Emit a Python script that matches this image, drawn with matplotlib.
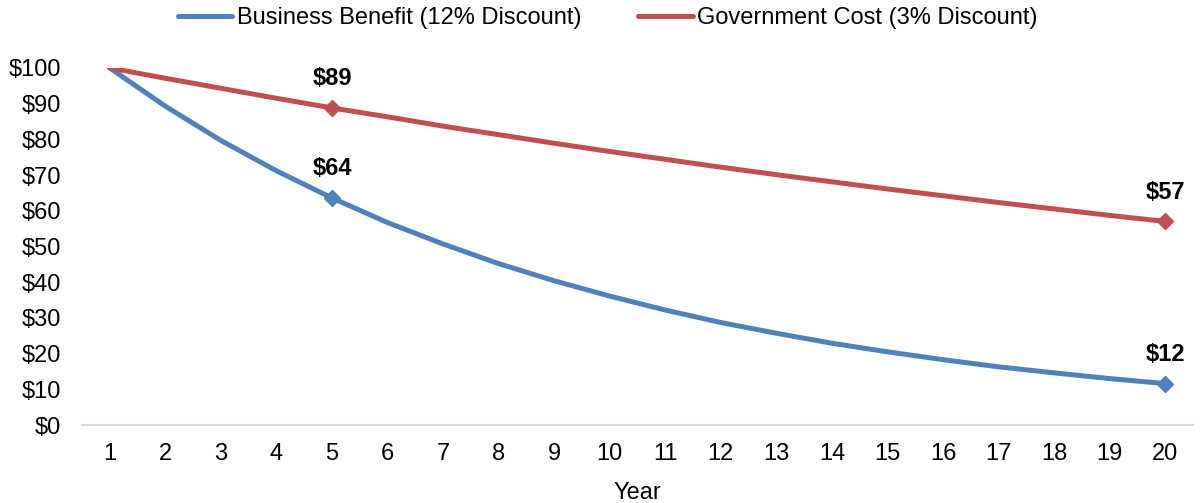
import matplotlib
matplotlib.use('Agg')
import matplotlib.pyplot as plt
from matplotlib.lines import Line2D

plt.rcParams['font.family'] = ['Liberation Sans', 'DejaVu Sans']

years = list(range(1, 21))
business = [100, 89.3, 79.7, 71.2, 63.6, 56.7, 50.7, 45.2, 40.4, 36.1,
            32.2, 28.7, 25.7, 22.9, 20.5, 18.3, 16.3, 14.6, 13.0, 11.6]
government = [100, 97.1, 94.3, 91.5, 88.8, 86.3, 83.7, 81.3, 78.9, 76.6,
              74.4, 72.2, 70.1, 68.1, 66.1, 64.2, 62.3, 60.5, 58.7, 57.0]
labelled = [5, 20]  # years that carry a marker and value label
yticks = list(range(0, 101, 10))

blue = '#4F81BD'
red = '#C0504D'
fs = 17

fig = plt.figure(figsize=(12.04, 5.03), dpi=100)
ax = fig.add_axes([0.068, 0.155, 0.923, 0.71])

idx = [years.index(y) for y in labelled]
ax.plot(years, business, color=blue, lw=3.6, marker='D', ms=8,
        markevery=idx, solid_capstyle='round')
ax.plot(years, government, color=red, lw=3.6, marker='D', ms=8,
        markevery=idx, solid_capstyle='round')

for i in idx:
    for series in (business, government):
        ax.annotate('$%d' % round(series[i]), (years[i], series[i]),
                    xytext=(0, 21), textcoords='offset points', ha='center',
                    va='center', fontsize=fs, fontweight='bold')

ax.set_xlim(0.5, 20.5)
ax.set_ylim(0, 100)
ax.set_xticks(years)
ax.set_yticks(yticks)
ax.set_yticklabels(['$%d' % v for v in yticks])
ax.tick_params(length=0, labelsize=fs)
ax.tick_params(axis='x', pad=13)
ax.tick_params(axis='y', pad=15)
for s in ['top', 'right', 'left']:
    ax.spines[s].set_visible(False)
ax.spines['bottom'].set_color('#d9d9d9')
ax.spines['bottom'].set_linewidth(1.5)
ax.set_xlabel('Year', fontsize=fs, labelpad=12)

handles = [Line2D([], [], color=blue, lw=3.6, solid_capstyle='round'),
           Line2D([], [], color=red, lw=3.6, solid_capstyle='round')]
fig.legend(handles, ['Business Benefit (12% Discount)', 'Government Cost (3% Discount)'],
           loc='center', bbox_to_anchor=(0.505, 0.964), ncol=2,
           frameon=False, fontsize=fs, handlelength=2.3, handletextpad=0.2,
           columnspacing=2.4)

fig.savefig('out.png', dpi=100)
